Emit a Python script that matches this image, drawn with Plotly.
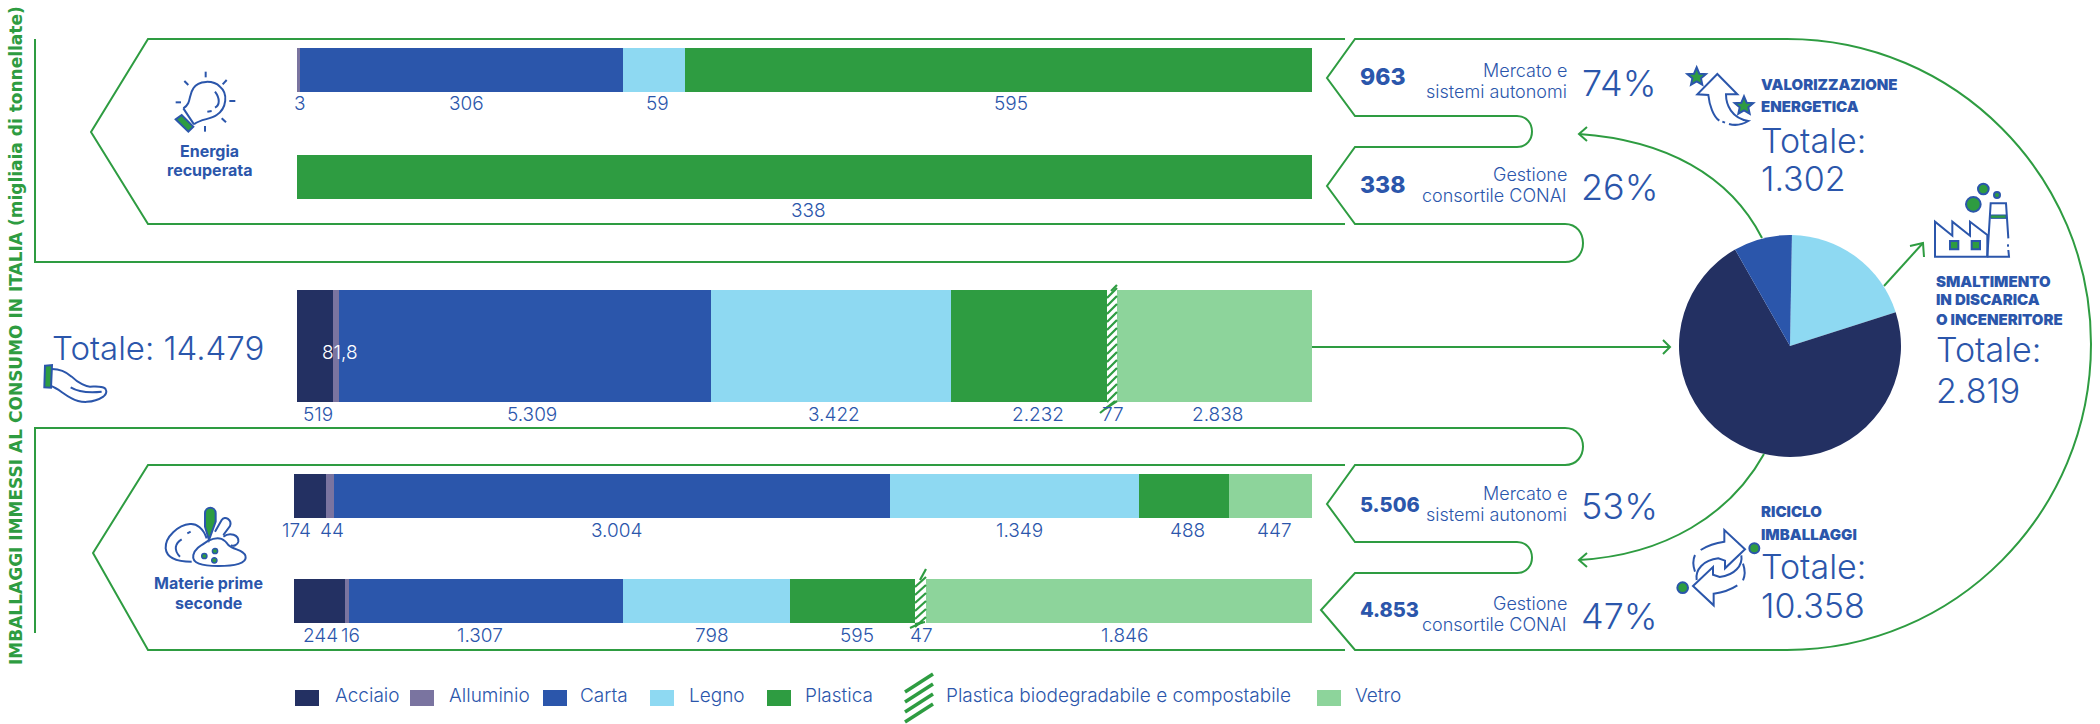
import re
import plotly.graph_objects as go

# ---------- data ----------
materials = ["Acciaio", "Alluminio", "Carta", "Legno", "Plastica",
             "Plastica biodegradabile e compostabile", "Vetro"]
# thousand tonnes, one value per material
energia_mercato = [0, 3, 306, 59, 595, 0, 0]
energia_conai = [0, 0, 0, 0, 338, 0, 0]
immesso_totale = [519, 81.8, 5309, 3422, 2232, 77, 2838]
riciclo_mercato = [174, 44, 3004, 1349, 488, 0, 447]
riciclo_conai = [244, 16, 1307, 798, 595, 47, 1846]

pie_labels = ["Legno", "Altro", "Carta"]
pie_values = [558, 2021, 240]

# ---------- style ----------
W, H = 2100, 724
COLORS = ["#233062", "#7a74a0", "#2b56ab", "#8ed9f2", "#2e9c41", "#ffffff", "#8dd49b"]
BLUE = "#2b56ab"
GREEN = "#2e9c41"
FONT = "Inter"

ROW_Y = [70, 177, 346, 496, 601]
ROW_H = [44, 44, 112, 44, 44]


def pth(s, ox=0.0, oy=0.0, k=1.0):
    """Convert a path written in pixels into paper coordinates."""
    out, i = [], 0
    for tok in re.findall(r"[MLCQZ]|-?\d+\.?\d*", s):
        if tok in "MLCQZ":
            out.append(tok)
        else:
            v = float(tok)
            if i % 2 == 0:
                out.append(f"{(ox + v * k) / W:.5f},")
            else:
                out.append(f"{1 - (oy + v * k) / H:.5f}")
            i += 1
    return " ".join(out).replace(", ", ",")


shapes = []


def line(s, color=GREEN, w=2, fill=None, **kw):
    d = dict(type="path", path=pth(s, **kw), xref="paper", yref="paper",
             line=dict(color=color, width=w), layer="above")
    if fill:
        d["fillcolor"] = fill
    shapes.append(d)


def circle(cx, cy, r, fill=GREEN, lc=BLUE, w=2):
    shapes.append(dict(type="circle", xref="paper", yref="paper",
                       x0=(cx - r) / W, x1=(cx + r) / W,
                       y0=1 - (cy + r) / H, y1=1 - (cy - r) / H,
                       fillcolor=fill, line=dict(color=lc, width=w), layer="above"))


def rect(x0, y0, x1, y1, fill):
    shapes.append(dict(type="rect", xref="paper", yref="paper",
                       x0=x0 / W, x1=x1 / W, y0=1 - y1 / H, y1=1 - y0 / H,
                       fillcolor=fill, line=dict(width=0), layer="above"))


annots = []


def txt(x, y, text, size=18, color=BLUE, weight=300, anchor="center", angle=0, font=FONT):
    annots.append(dict(x=x / W, y=1 - y / H, xref="paper", yref="paper", text=text,
                       showarrow=False, xanchor=anchor, yanchor="middle", align=anchor,
                       textangle=angle, borderpad=0,
                       font=dict(family=font, size=size, color=color, weight=weight)))


# ---------- green outlines ----------
line("M 35 39 L 35 262 L 1565 262 C 1589 262 1589 224 1565 224 L 1355 224 L 1327 186 L 1355 147 "
     "L 1517 147 C 1537 147 1537 116 1517 116 L 1355 116 L 1327 78 L 1355 39 L 1787 39 "
     "C 1955 39 2091 176 2091 344 C 2091 513 1955 650 1787 650 L 1355 650 L 1321 610 L 1355 573 "
     "L 1517 573 C 1537 573 1537 542 1517 542 L 1355 542 L 1327 504 L 1355 465 L 1565 465 "
     "C 1589 465 1589 428 1565 428 L 35 428 L 35 633")
line("M 1345 39 L 148 39 L 91 132 L 148 224 L 1345 224")
line("M 1345 465 L 148 465 L 93 553 L 148 650 L 1345 650")

# arrows
line("M 1762 238 C 1730 175 1665 140 1579 134")
line("M 1587 127 L 1579 134 L 1587 141")
line("M 1764 454 C 1730 515 1665 555 1579 560")
line("M 1587 553 L 1579 560 L 1587 567")
line("M 1884 286 L 1923 243")
line("M 1910 246 L 1923 243 L 1924 257")
line("M 1312 347 L 1670 347")
line("M 1663 340 L 1670 347 L 1663 354")


# hatch band over the biodegradable segments, wider than its value as in the source
def hatch(x0, x1, y0, y1, top, bottom):
    rect(x0, y0, x1, y1, "#ffffff")
    y = y0 + 3
    while y < y1:
        line(f"M {x0} {y + 5} L {x1} {y - 5}", GREEN, 2.2)
        y += 8
    line(f"M {x1 - 6} {y0 + 1} L {top[0]} {top[1]}", GREEN, 2.2)
    line(f"M {bottom[0]} {bottom[1]} L {x0 + 8} {y1 - 1}", GREEN, 2.2)
    line(f"M {bottom[0] + 5} {bottom[1] - 4} L {x0 + 10} {y1 - 1}", GREEN, 2.2)


hatch(1107, 1117, 290, 402, (1117, 285), (1100, 413))
hatch(915, 926, 579, 623, (926, 569), (910, 628))

# ---------- icons (paths in local crop units, 3x) ----------
k3 = dict(k=1 / 3)
# bulb
o = dict(ox=160, oy=65, **k3)
line("M 102 178 C 125 160 150 165 170 150 C 200 130 205 85 180 65 C 160 45 115 45 100 70 "
     "C 85 90 95 115 70 130", BLUE, 2, **o)
line("M 70 130 L 102 178", BLUE, 2, **o)
line("M 47 163 L 65 150 L 100 185 L 85 200 Z", BLUE, 2, fill=GREEN, **o)
for seg in ["137 20 L 137 37", "73 48 L 85 60", "200 45 L 188 58", "47 112 L 63 112",
            "208 108 L 226 108", "185 160 L 198 172", "135 183 L 135 200",
            "142 140 L 155 138"]:
    line("M " + seg, BLUE, 2, **o)
line("M 165 80 C 180 100 180 120 165 128", BLUE, 2, **o)
# raw materials
o = dict(ox=155, oy=500, **k3)
line("M 110 185 C 70 185 35 175 32 145 C 30 110 70 75 105 72 C 125 70 145 85 155 115", BLUE, 2, **o)
line("M 80 118 C 60 130 55 150 75 170", BLUE, 2, **o)
line("M 97 100 L 107 95", BLUE, 2, **o)
line("M 180 95 L 200 60 C 210 45 232 60 225 78 L 205 105", BLUE, 2, **o)
line("M 205 110 C 225 95 252 105 250 125 C 248 135 235 140 228 135", BLUE, 2, **o)
line("M 160 122 C 140 135 120 145 115 165 C 110 190 140 198 190 198 C 240 198 275 190 272 170 "
     "C 270 150 235 150 220 135 C 210 120 195 105 160 122", BLUE, 2, **o)
line("M 150 40 C 150 18 182 18 182 40 L 182 65 L 162 120 L 150 80 Z", BLUE, 2, fill=GREEN, **o)
for cx, cy in [(148, 168), (180, 153), (178, 181)]:
    circle(155 + cx / 3, 500 + cy / 3, 2.6, w=1.5)
# hand
o = dict(ox=30, oy=355, **k3)
line("M 66 42 C 90 42 110 52 125 65 C 145 85 170 95 180 95 C 200 95 225 92 228 105 "
     "C 232 115 225 120 220 125 C 190 145 150 145 125 130 C 100 118 85 100 63 93", BLUE, 2, **o)
line("M 122 97 C 140 108 165 115 215 110", BLUE, 2, **o)
line("M 45 32 L 66 30 L 63 98 L 43 97 Z", BLUE, 2, fill=GREEN, **o)
# energy arrow with stars
o = dict(ox=1675, oy=55, **k3)
line("M 133 197 C 115 185 103 150 100 120 L 67 118 L 127 57 L 187 118 L 153 118 "
     "C 153 150 170 190 220 198 C 200 210 180 212 162 207", BLUE, 2, **o)
line("M 142 200 L 150 203", BLUE, 2, **o)
star = ("M 0 -28 L 8 -9 L 28 -8 L 13 5 L 17 24 L 0 14 L -17 24 L -13 5 L -28 -8 L -8 -9 Z")
for sx, sy in [(65, 65), (207, 152)]:
    pts = re.findall(r"([MLZ])(?: (-?\d+) (-?\d+))?", star)
    s = " ".join(c if c == "Z" else f"{c} {sx + int(a)} {sy + int(b)}" for c, a, b in pts)
    line(s, BLUE, 2, fill=GREEN, **o)
# factory
o = dict(ox=1925, oy=175, **k3)
line("M 30 245 L 30 140 L 82 182 L 82 140 L 135 182 L 135 140 L 187 180 L 187 245 Z", BLUE, 2, **o)
line("M 187 245 L 197 85 L 243 85 L 250 190", BLUE, 2, **o)
line("M 250 225 L 252 245 L 187 245", BLUE, 2, **o)
line("M 249 208 L 249 215", BLUE, 2, **o)
line("M 197 120 L 243 120 L 243 130 L 197 130 Z", BLUE, 1, fill=GREEN, **o)
line("M 75 198 L 100 198 L 100 223 L 75 223 Z", BLUE, 2, fill=GREEN, **o)
line("M 140 198 L 165 198 L 165 223 L 140 223 Z", BLUE, 2, fill=GREEN, **o)
for cx, cy, r in [(145, 88, 22), (175, 42, 16), (216, 60, 9)]:
    circle(1925 + cx / 3, 175 + cy / 3, r / 3)
# recycle
o = dict(ox=1670, oy=520, **k3)
line("M 80 180 C 75 150 100 120 145 115 L 165 122 L 165 145 L 225 88 L 163 30 L 163 65 "
     "C 140 68 115 75 92 90", BLUE, 2, **o)
line("M 75 105 C 68 120 68 135 75 155", BLUE, 2, **o)
line("M 214 106 C 219 136 194 166 149 171 L 129 164 L 129 141 L 69 198 L 131 256 L 131 221 "
     "C 154 218 179 211 202 196", BLUE, 2, **o)
line("M 219 181 C 226 166 226 151 219 131", BLUE, 2, **o)
circle(1670 + 253 / 3, 520 + 85 / 3, 15 / 3)
circle(1670 + 38 / 3, 520 + 203 / 3, 16 / 3)

# ---------- custom legend ----------
leg_box = [(295, 319), (410, 434), (543, 567), (650, 674), (767, 791), None, (1317, 1341)]
leg_txt = [334, 448, 579, 688, 804, 945, 1354]
for m, c, b, t in zip(materials, COLORS, leg_box, leg_txt):
    if b:
        rect(b[0], 690, b[1], 706, c)
    txt(t, 695, m, size=19, anchor="left")
for dy in [0, 10, 20, 30]:
    line(f"M 905 {692 + dy} L 933 {674 + dy}", GREEN, 3.5)

# ---------- value labels ----------
labels = [
    (104, [(300, "3"), (466, "306"), (657, "59"), (1011, "595")]),
    (211, [(808, "338")]),
    (414, [(318, "519"), (532, "5.309"), (834, "3.422"), (1038, "2.232"), (1113, "77"), (1217, "2.838")]),
    (530, [(296, "174"), (332, "44"), (616, "3.004"), (1019, "1.349"), (1187, "488"), (1274, "447")]),
    (635, [(320, "244"), (350, "16"), (480, "1.307"), (712, "798"), (857, "595"), (921, "47"), (1124, "1.846")]),
]
for y, items in labels:
    for x, s in items:
        txt(x, y, s, size=19)
txt(340, 353, "81,8", size=19, color="#ffffff")

# ---------- other text ----------
txt(16, 336, "IMBALLAGGI IMMESSI AL CONSUMO IN ITALIA (migliaia di tonnellate)",
    size=17, color=GREEN, weight=700, angle=-90, font="DejaVu Sans")
txt(158, 348, "Totale: 14.479", size=33)
for x, y, s in [(209, 151, "Energia"), (209, 170, "recuperata"),
                (208, 583, "Materie prime"), (208, 603, "seconde")]:
    txt(x, y, s, size=16, weight=700)

for y, s, sz in [(77, "963", 23), (185, "338", 23), (505, "5.506", 20), (610, "4.853", 20)]:
    txt(1359, y, s, size=sz, weight=800, anchor="left")
for y, s in [(70, "Mercato e"), (91, "sistemi autonomi"), (174, "Gestione"), (195, "consortile CONAI"),
             (493, "Mercato e"), (514, "sistemi autonomi"), (603, "Gestione"), (624, "consortile CONAI")]:
    txt(1568, y, s, size=18, anchor="right")
for y, s in [(83, "74%"), (187, "26%"), (506, "53%"), (616, "47%")]:
    txt(1619, y, s, size=36)

for x, y, s in [(1760, 84, "VALORIZZAZIONE"), (1760, 107, "ENERGETICA"),
                (1935, 281, "SMALTIMENTO"), (1935, 300, "IN DISCARICA"), (1935, 319, "O INCENERITORE"),
                (1760, 511, "RICICLO"), (1760, 534, "IMBALLAGGI")]:
    txt(x, y, s, size=15, weight=900, anchor="left")
for x, y, s in [(1760, 140, "Totale:"), (1760, 178, "1.302"),
                (1935, 350, "Totale:"), (1935, 390, "2.819"),
                (1760, 566, "Totale:"), (1760, 605, "10.358")]:
    txt(x, y, s, size=34, anchor="left")

# ---------- bars ----------
fig = go.Figure()
for i, m in enumerate(materials):
    is_bio = i == 5
    marker = dict(color=COLORS[i], line=dict(width=0))
    if is_bio:
        marker["pattern"] = dict(shape="/", fgcolor=GREEN, bgcolor="#ffffff", size=7, solidity=0.4)
    fig.add_trace(go.Bar(
        x=[energia_mercato[i], energia_conai[i], immesso_totale[i]],
        y=ROW_Y[:3], width=ROW_H[:3], orientation="h", name=m,
        marker=marker, xaxis="x", yaxis="y", showlegend=False,
    ))
    fig.add_trace(go.Bar(
        x=[riciclo_mercato[i], riciclo_conai[i]],
        y=ROW_Y[3:], width=ROW_H[3:], orientation="h", name=m,
        marker=marker, xaxis="x2", yaxis="y", showlegend=False,
    ))

fig.add_trace(go.Pie(
    labels=pie_labels, values=pie_values, sort=False, direction="clockwise", rotation=1,
    marker=dict(colors=["#8ed9f2", "#233062", "#2b56ab"], line=dict(width=0)),
    textinfo="none", showlegend=False,
    domain=dict(x=[1679 / W, 1901 / W], y=[1 - 457 / H, 1 - 235 / H]),
))

fig.update_layout(
    width=W, height=H, autosize=False,
    margin=dict(l=0, r=0, t=0, b=0, pad=0),
    paper_bgcolor="#ffffff", plot_bgcolor="rgba(0,0,0,0)",
    barmode="stack", barnorm="percent",
    xaxis=dict(domain=[297 / W, 1312 / W], range=[0, 100], visible=False, fixedrange=True),
    xaxis2=dict(domain=[294 / W, 1312 / W], range=[0, 100], visible=False, fixedrange=True,
                anchor="y"),
    yaxis=dict(domain=[0, 1], range=[H, 0], visible=False, fixedrange=True),
    shapes=shapes, annotations=annots,
    font=dict(family=FONT, color=BLUE),
)

fig.write_html("out.html", post_script="document.body.style.margin='0';document.body.style.overflow='hidden';",
               config=dict(displayModeBar=False))
